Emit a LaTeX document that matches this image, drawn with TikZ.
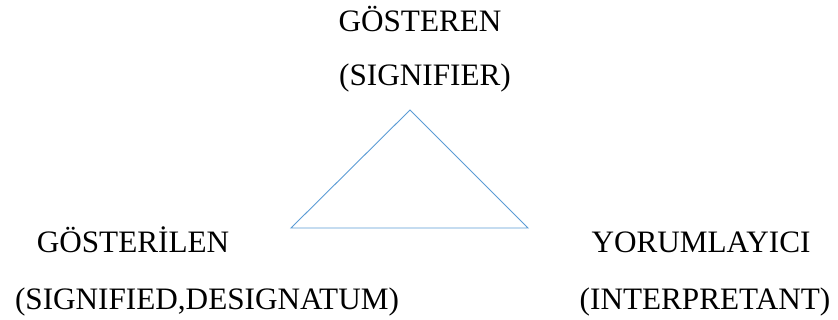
\documentclass[tikz,border=0pt]{standalone}
\usepackage{fontspec}
\setmainfont{Liberation Serif}
\definecolor{ucgenmavi}{HTML}{5B9BD5}
\tikzset{
  etiket/.style={anchor=base, inner sep=0pt, font=\fontsize{31.2}{36}\selectfont}
}
\begin{document}
\begin{tikzpicture}[x=1pt, y=1pt]
        \useasboundingbox (0,0) rectangle (838,320);

        % Ucgen
        \coordinate (tepe) at (410,210);
        \coordinate (sol) at (291,92);
        \coordinate (sag) at (528,92);
        \draw[ucgenmavi, line width=0.9pt] (tepe) -- (sag) -- (sol) -- cycle;

        % Gosteren
        \node[etiket] (gosteren) at (420,288) {GÖSTEREN};
        \node[etiket] (signifier) at (425,234) {(SIGNIFIER)};

        % Gosterilen
        \node[etiket] (gosterilen) at (133,67) {GÖSTERİLEN};
        \node[etiket] (signified) at (207,10) {(SIGNIFIED,DESIGNATUM)};

        % Yorumlayici
        \node[etiket] (yorumlayici) at (701,67) {YORUMLAYICI};
        \node[etiket] (interpretant) at (705,10) {(INTERPRETANT)};
    \end{tikzpicture}
\end{document}
